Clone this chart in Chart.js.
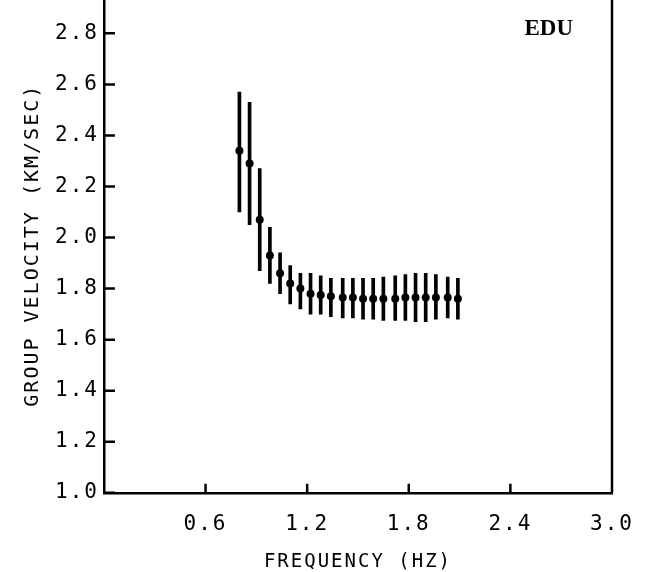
<!DOCTYPE html>
<html>
<head>
<meta charset="utf-8">
<title>EDU group velocity</title>
<script src="https://cdn.jsdelivr.net/npm/chart.js@4.4.1/dist/chart.umd.min.js"></script>
<style>
  html, body { margin: 0; padding: 0; background: #fff; }
  /* the plot frame runs off the top edge of the scan, so the canvas is taller and shifted up */
  #wrap { width: 654px; height: 572px; overflow: hidden; position: relative; }
  #chart { position: absolute; left: 0; top: -20px; }
</style>
</head>
<body>
<div id="wrap"><canvas id="chart" width="654" height="592"></canvas></div>
<script>
// values
const frequency = [0.80, 0.86, 0.92, 0.98, 1.04, 1.10, 1.16, 1.22, 1.28, 1.34, 1.41,
                   1.47, 1.53, 1.59, 1.65, 1.72, 1.78, 1.84, 1.90, 1.96, 2.03, 2.09];
const velocity  = [2.34, 2.29, 2.07, 1.93, 1.86, 1.82, 1.80, 1.78, 1.775, 1.77, 1.765,
                   1.765, 1.76, 1.76, 1.76, 1.76, 1.765, 1.765, 1.765, 1.765, 1.765, 1.76];
const velHigh   = [2.57, 2.53, 2.27, 2.04, 1.94, 1.89, 1.86, 1.86, 1.85, 1.84, 1.84,
                   1.84, 1.84, 1.84, 1.845, 1.85, 1.855, 1.86, 1.86, 1.855, 1.845, 1.84];
const velLow    = [2.10, 2.05, 1.87, 1.82, 1.78, 1.74, 1.72, 1.70, 1.70, 1.69, 1.685,
                   1.685, 1.68, 1.68, 1.675, 1.675, 1.675, 1.67, 1.67, 1.68, 1.685, 1.68];
const stationName = 'EDU';

Chart.defaults.font.family = '"DejaVu Sans Mono", monospace';
Chart.defaults.color = '#000';

function setSpacing(chart) {
    chart.ctx.letterSpacing = '2px';
}

// inward ticks, right frame line and station label
const frame = {
    id: 'frame',
    beforeLayout: setSpacing,
    beforeDraw: setSpacing,
    afterDraw(chart) {
        const { ctx, chartArea: a, scales: { x, y } } = chart;
        ctx.save();
        ctx.strokeStyle = '#000';
        ctx.lineWidth = 2.5;
        ctx.beginPath();
        ctx.moveTo(a.right, a.top);
        ctx.lineTo(a.right, a.bottom);
        y.ticks.forEach(t => {
            const py = y.getPixelForValue(t.value);
            ctx.moveTo(a.left, py);
            ctx.lineTo(a.left + 11, py);
        });
        x.ticks.forEach(t => {
            if (t.value <= 0 || t.value >= 3) return;
            const px = x.getPixelForValue(t.value);
            ctx.moveTo(px, a.bottom);
            ctx.lineTo(px, a.bottom - 9);
        });
        ctx.stroke();
        ctx.letterSpacing = '0px';
        ctx.fillStyle = '#000';
        ctx.font = 'bold 23px "Liberation Serif"';
        ctx.textAlign = 'right';
        ctx.textBaseline = 'alphabetic';
        ctx.fillText(stationName, a.right - 39, a.top + 37);
        ctx.restore();
    }
};

new Chart(document.getElementById('chart').getContext('2d'), {
    type: 'bar',
    data: {
        datasets: [{
            type: 'line',
            data: frequency.map((f, i) => ({ x: f, y: velocity[i] })),
            showLine: false,
            pointRadius: 4,
            pointBackgroundColor: '#000',
            pointBorderColor: '#000',
            pointBorderWidth: 0
        }, {
            type: 'bar',
            data: frequency.map((f, i) => ({ x: f, y: [velLow[i], velHigh[i]] })),
            backgroundColor: '#000',
            barThickness: 3,
            grouped: false,
            borderSkipped: false
        }]
    },
    options: {
        responsive: false,
        animation: false,
        devicePixelRatio: 1,
        layout: { padding: { left: 21, right: 42, top: 0, bottom: 0 } },
        plugins: {
            legend: { display: false },
            tooltip: { enabled: false }
        },
        scales: {
            x: {
                type: 'linear',
                offset: false,
                min: 0,
                max: 3.0,
                grid: { drawOnChartArea: false, drawTicks: false, offset: false },
                border: { display: true, color: '#000', width: 2.5 },
                ticks: {
                    stepSize: 0.6,
                    padding: 19,
                    maxRotation: 0,
                    font: { size: 21 },
                    callback: v => v === 0 ? '' : v.toFixed(1)
                },
                title: {
                    display: true,
                    text: 'FREQUENCY (HZ)',
                    font: { size: 19, lineHeight: 1 },
                    padding: { top: -3, bottom: 0 }
                }
            },
            y: {
                min: 1.0,
                max: 2.94,
                grid: { drawOnChartArea: false, drawTicks: false },
                border: { display: true, color: '#000', width: 2.5 },
                ticks: {
                    stepSize: 0.2,
                    includeBounds: false,
                    padding: 5,
                    font: { size: 21 },
                    callback: v => v.toFixed(1)
                },
                title: {
                    display: true,
                    text: 'GROUP VELOCITY (KM/SEC)',
                    font: { size: 20, lineHeight: 1.2 },
                    padding: { top: 0, bottom: 5 }
                }
            }
        }
    },
    plugins: [frame]
});
</script>
</body>
</html>
